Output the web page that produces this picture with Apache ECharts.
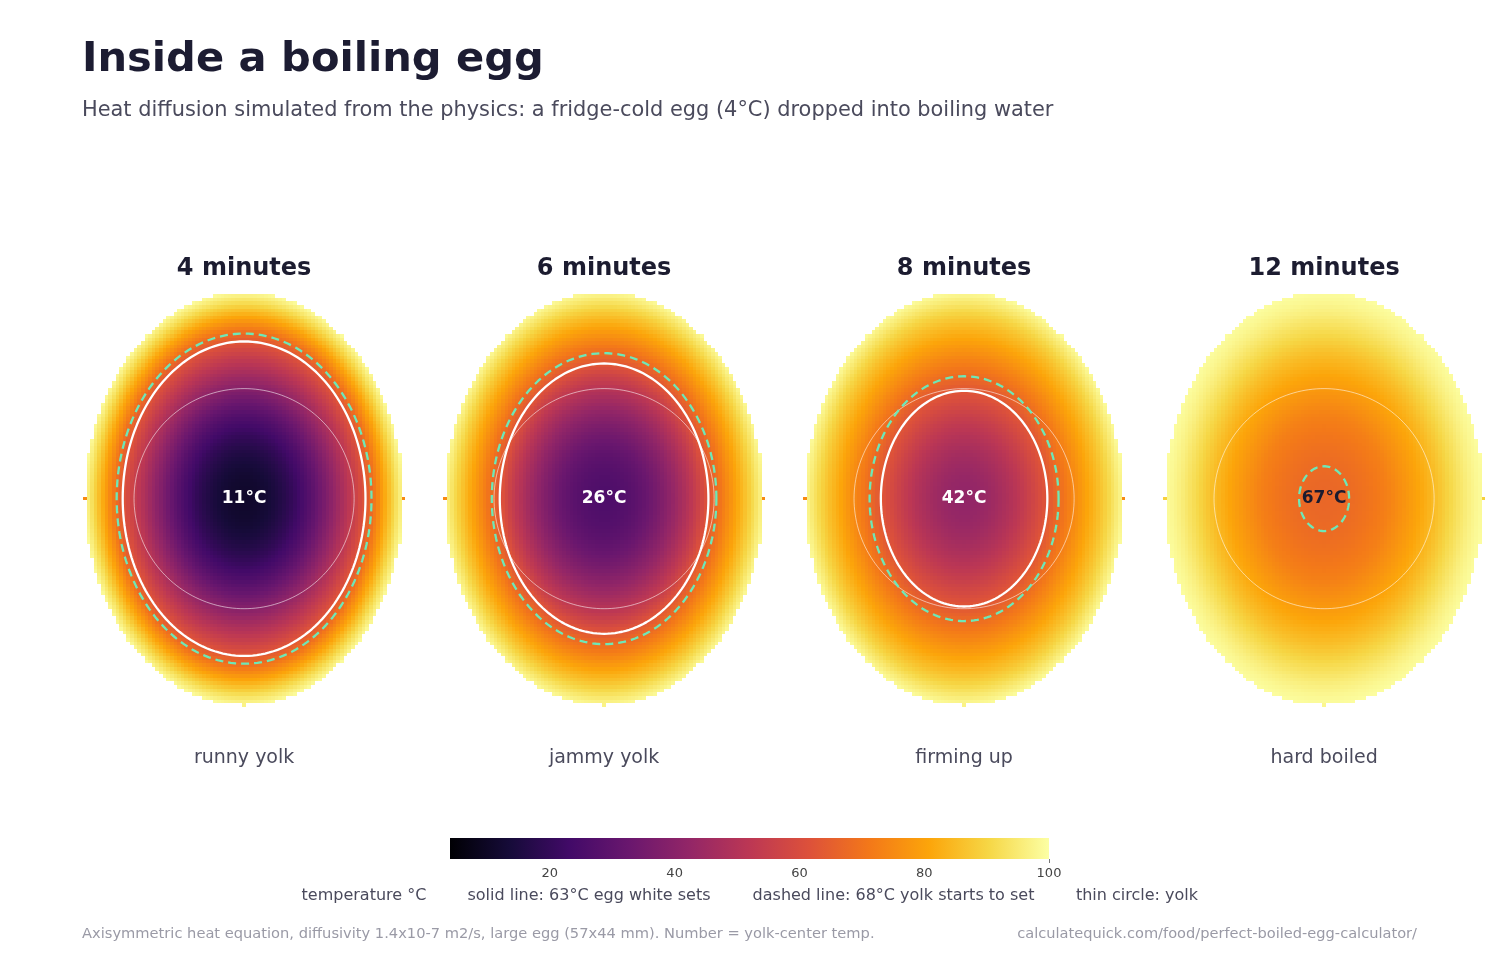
<!DOCTYPE html>
<html><head><meta charset="utf-8">
<script src="https://cdn.jsdelivr.net/npm/echarts@6/dist/echarts.min.js"></script>
<style>html,body{margin:0;padding:0;background:#fff}#c{width:1500px;height:960px}</style>
</head><body><div id="c"></div>
<script>
// ---------------- data ----------------
const panelTitles = ['4 minutes', '6 minutes', '8 minutes', '12 minutes'];
const panelCaptions = ['runny yolk', 'jammy yolk', 'firming up', 'hard boiled'];
const centerTemps = [11, 26, 42, 67];
// temperature (°C) read along the normalised egg radius s = 0, 0.05 ... 1.0
const profileS = [0,0.05,0.1,0.15,0.2,0.25,0.3,0.35,0.4,0.45,0.5,0.55,0.6,0.65,0.7,0.75,0.8,0.85,0.9,0.95,1.0];
const profile4min  = [11,11.3,12,13.2,15,17.3,20,23.3,27,31.3,36,41,46,51,56,61.4,68,76,84,92,99];
const profile6min  = [26,26.3,27,28,29.5,31.5,34,37,40.3,44,48,52.3,57,62.5,67.5,72.5,77.5,82.5,87.5,93,98.5];
const profile8min  = [42,42.3,43,44.2,45.8,47.8,50,52.6,55.4,58.4,61.5,64.8,68.5,72,75.5,79,82.5,86,90,94.5,99];
const profile12min = [67,67.1,67.4,67.9,68.6,69.5,70.5,71.7,73,75,77,79,81,83.2,85.5,88.2,91,93.5,96,98,99.5];
// boundary grid points lying exactly on the shell (side points on the centre row, bottom point)
const edgeSideTemps = [75, 75, 75, 89];
const edgeBottomTemps = [97, 97, 97, 98];
const whiteSetsC = 63;
const yolkSetsC = 68;
const yolkRadiusMm = 15.2;
const eggRadiusMm = 22;
const eggHalfLengthMm = 28.5;
const cellMm = 0.5;
const tempMin = 4, tempMax = 100;
const colorbarTicks = [20, 40, 60, 80, 100];
const inferno = ['#000004','#160b39','#420a68','#6a176e','#932667','#bc3754','#dd513a','#f37819','#fca50a','#f6d746','#fcffa4'];

const profiles = [profile4min, profile6min, profile8min, profile12min];

// ---------------- helpers ----------------
function lookup(prof, s) {
  const step = profileS[1] - profileS[0];
  const i = Math.min(Math.floor(s / step), prof.length - 2);
  const f = (s - profileS[i]) / step;
  return prof[i] + (prof[i + 1] - prof[i]) * f;
}
function crossing(prof, level) {
  for (let i = 0; i < prof.length - 1; i++) {
    if (prof[i] < level && prof[i + 1] >= level) {
      return profileS[i] + (level - prof[i]) / (prof[i + 1] - prof[i]) * (profileS[i + 1] - profileS[i]);
    }
  }
  return null;
}
function buildField(k) {
  const prof = profiles[k];
  const out = [];
  const nx = Math.round(2 * eggRadiusMm / cellMm);
  const nz = Math.round(2 * eggHalfLengthMm / cellMm);
  for (let ix = 0; ix <= nx; ix++) {
    const x = -eggRadiusMm + ix * cellMm;
    for (let iz = 0; iz <= nz; iz++) {
      const z = -eggHalfLengthMm + iz * cellMm;
      const s = Math.sqrt((x / eggRadiusMm) ** 2 + (z / eggHalfLengthMm) ** 2);
      if (s < 1 - 1e-9) out.push([x, z, lookup(prof, s)]);
    }
  }
  out.push([-eggRadiusMm, 0, edgeSideTemps[k]]);
  out.push([eggRadiusMm, 0, edgeSideTemps[k]]);
  out.push([0, -eggHalfLengthMm, edgeBottomTemps[k]]);
  return out;
}
function ellipse(ax, az) {
  const pts = [];
  const N = 180;
  for (let i = 0; i <= N; i++) {
    const t = 2 * Math.PI * i / N;
    pts.push([ax * Math.cos(t), az * Math.sin(t)]);
  }
  return pts;
}

// ---------------- layout ----------------
const FONT = 'DejaVu Sans';
const gridLeft0 = 83, gridStep = 360, gridTop = 290.5;
const pxPerMm = 7.24;
const gridW = (2 * eggRadiusMm + cellMm) * pxPerMm;
const gridH = (2 * eggHalfLengthMm + cellMm) * pxPerMm;

const grids = [], xAxes = [], yAxes = [], series = [], graphics = [];
const cellSeriesIdx = [];

function renderCell(params, api) {
  const x = api.value(0), z = api.value(1);
  const a = api.coord([x - cellMm / 2, z + cellMm / 2]);
  const b = api.coord([x + cellMm / 2, z - cellMm / 2]);
  const x0 = Math.round(a[0]), x1 = Math.round(b[0]);
  const y0 = Math.round(a[1]), y1 = Math.round(b[1]);
  return {
    type: 'rect',
    shape: { x: x0, y: y0, width: x1 - x0, height: y1 - y0 },
    style: { fill: api.visual('color') }
  };
}

for (let k = 0; k < 4; k++) {
  const left = gridLeft0 + k * gridStep;
  grids.push({ left: left, top: gridTop, width: gridW, height: gridH });
  xAxes.push({ gridIndex: k, type: 'value', min: -eggRadiusMm - cellMm / 2, max: eggRadiusMm + cellMm / 2, show: false });
  yAxes.push({ gridIndex: k, type: 'value', min: -eggHalfLengthMm - cellMm / 2, max: eggHalfLengthMm + cellMm / 2, show: false });
  cellSeriesIdx.push(series.length);
  series.push({
    type: 'custom', xAxisIndex: k, yAxisIndex: k, data: buildField(k),
    renderItem: renderCell, silent: true, progressive: 0, animation: false, z: 1
  });
  // yolk circle
  series.push({
    type: 'line', xAxisIndex: k, yAxisIndex: k, data: ellipse(yolkRadiusMm, yolkRadiusMm),
    showSymbol: false, silent: true, z: 3,
    lineStyle: { color: 'rgba(255,255,255,0.55)', width: 1 }
  });
  const sW = crossing(profiles[k], whiteSetsC);
  if (sW !== null) {
    series.push({
      type: 'line', xAxisIndex: k, yAxisIndex: k, data: ellipse(sW * eggRadiusMm, sW * eggHalfLengthMm),
      showSymbol: false, silent: true, z: 4,
      lineStyle: { color: '#ffffff', width: 2.3 }
    });
  }
  const sY = crossing(profiles[k], yolkSetsC);
  if (sY !== null) {
    series.push({
      type: 'line', xAxisIndex: k, yAxisIndex: k, data: ellipse(sY * eggRadiusMm, sY * eggHalfLengthMm),
      showSymbol: false, silent: true, z: 5,
      lineStyle: { color: '#6ee7b7', width: 2.3, type: [8, 5] }
    });
  }
  // centre temperature label
  series.push({
    type: 'scatter', xAxisIndex: k, yAxisIndex: k, data: [[0, 0]], symbolSize: 0, silent: true, z: 6,
    itemStyle: { color: '#000', opacity: 1 },
    label: {
      show: true, position: 'inside', formatter: centerTemps[k] + '°C', opacity: 1,
      fontFamily: FONT, fontWeight: 'bold', fontSize: 17,
      textBorderWidth: 0, textShadowBlur: 0,
      color: centerTemps[k] > 60 ? '#1b1b2f' : '#ffffff'
    }
  });
  const cx = left + gridW / 2;
  graphics.push({ type: 'text', x: cx, y: 269, style: { text: panelTitles[k], fontFamily: FONT, fontWeight: 'bold', fontSize: 24, fill: '#1c1c30', align: 'center', verticalAlign: 'middle' } });
  graphics.push({ type: 'text', x: cx, y: 758, style: { text: panelCaptions[k], fontFamily: FONT, fontSize: 19, fill: '#4a4a5c', align: 'center', verticalAlign: 'middle' } });
}

// colour bar
const cbGrid = grids.length;
grids.push({ left: 450, top: 838, width: 599, height: 21 });
xAxes.push({
  gridIndex: cbGrid, type: 'value', min: tempMin, max: tempMax,
  axisLine: { show: false }, splitLine: { show: false },
  axisTick: { show: true, customValues: [tempMax], length: 4, lineStyle: { color: '#777' } },
  axisLabel: { customValues: colorbarTicks, fontFamily: FONT, fontSize: 13, color: '#444', margin: 8 }
});
yAxes.push({ gridIndex: cbGrid, type: 'value', min: 0, max: 1, show: false });
series.push({
  type: 'custom', xAxisIndex: cbGrid, yAxisIndex: cbGrid, data: [[tempMin, tempMax]], silent: true,
  renderItem: function (params, api) {
    const a = api.coord([api.value(0), 1]);
    const b = api.coord([api.value(1), 0]);
    const stops = inferno.map(function (c, i) { return { offset: i / (inferno.length - 1), color: c }; });
    return {
      type: 'rect', shape: { x: a[0], y: a[1], width: b[0] - a[0], height: b[1] - a[1] },
      style: { fill: new echarts.graphic.LinearGradient(0, 0, 1, 0, stops) }
    };
  }
});

// texts
graphics.push({ type: 'text', x: 82, y: 60, style: { text: 'Inside a boiling egg', fontFamily: FONT, fontWeight: 'bold', fontSize: 41.6, fill: '#1c1c32', verticalAlign: 'middle' } });
graphics.push({ type: 'text', x: 82, y: 111, style: { text: 'Heat diffusion simulated from the physics: a fridge-cold egg (4°C) dropped into boiling water', fontFamily: FONT, fontSize: 20.9, fill: '#4a4a5c', verticalAlign: 'middle' } });
const legendItems = [
  ['temperature °C', 364],
  ['solid line: ' + whiteSetsC + '°C egg white sets', 589],
  ['dashed line: ' + yolkSetsC + '°C yolk starts to set', 893.5],
  ['thin circle: yolk', 1137]
];
legendItems.forEach(function (it) {
  graphics.push({ type: 'text', x: it[1], y: 895.5, style: { text: it[0], fontFamily: FONT, fontSize: 16, fill: '#4a4a5c', align: 'center', verticalAlign: 'middle' } });
});
graphics.push({ type: 'text', x: 82, y: 934.5, style: { text: 'Axisymmetric heat equation, diffusivity 1.4x10-7 m2/s, large egg (57x44 mm). Number = yolk-center temp.', fontFamily: FONT, fontSize: 14.65, fill: '#9a9aa6', verticalAlign: 'middle' } });
graphics.push({ type: 'text', x: 1417, y: 934.5, style: { text: 'calculatequick.com/food/perfect-boiled-egg-calculator/', fontFamily: FONT, fontSize: 14.6, fill: '#9a9aa6', align: 'right', verticalAlign: 'middle' } });

const chart = echarts.init(document.getElementById('c'), null, { renderer: 'canvas' });
chart.setOption({
  backgroundColor: '#ffffff',
  animation: false,
  grid: grids, xAxis: xAxes, yAxis: yAxes,
  visualMap: { type: 'continuous', show: false, min: tempMin, max: tempMax, dimension: 2, seriesIndex: cellSeriesIdx, inRange: { color: inferno } },
  graphic: graphics,
  series: series
});
</script></body></html>
